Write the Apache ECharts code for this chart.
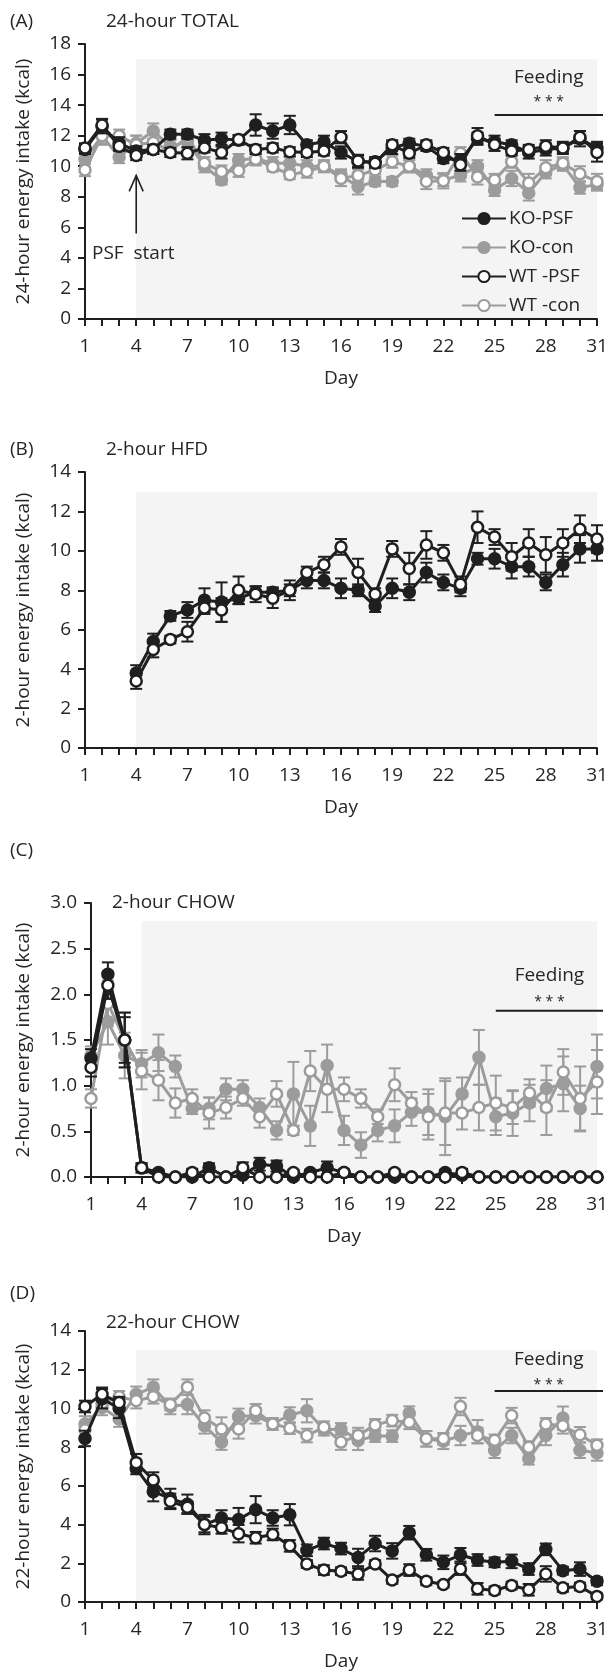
<!DOCTYPE html>
<html>
<head>
<meta charset="utf-8">
<script src="https://cdn.jsdelivr.net/npm/echarts@6/dist/echarts.min.js"></script>
<style>html,body{margin:0;padding:0;background:#fff}#c{width:611px;height:1672px}</style>
</head>
<body>
<div id="c"></div>
<script>
// ---------- data ----------
const days = ['1','2','3','4','5','6','7','8','9','10','11','12','13','14','15','16','17','18','19','20','21','22','23','24','25','26','27','28','29','30','31'];
const seriesNames = ['KO-PSF','KO-con','WT -PSF','WT -con'];

// (A) 24-hour TOTAL
const totalKOPSF    = [11.1,12.6,11.5,11.0,11.1,12.1,12.1,11.7,11.8,11.7,12.7,12.3,12.7,11.4,11.6,10.9,10.3,10.3,11.2,11.5,11.3,10.5,10.4,11.8,11.6,11.4,10.9,11.1,11.2,11.8,11.2];
const totalKOPSFErr = [0.3,0.45,0.4,0.3,0.3,0.3,0.3,0.4,0.4,0.3,0.7,0.5,0.6,0.3,0.4,0.4,0.4,0.3,0.4,0.3,0.3,0.3,0.4,0.4,0.4,0.3,0.4,0.4,0.4,0.5,0.4];
const totalKOcon    = [10.45,12.0,10.6,11.5,12.3,11.3,11.6,10.0,9.1,10.4,10.5,10.2,10.2,10.0,10.0,9.4,8.65,9.0,9.0,10.0,9.4,9.1,9.4,10.0,8.45,9.2,8.25,9.6,10.1,8.6,8.8];
const totalKOconErr = [0.5,0.6,0.4,0.5,0.5,0.4,0.4,0.4,0.3,0.4,0.4,0.4,0.4,0.4,0.4,0.4,0.5,0.3,0.3,0.4,0.4,0.4,0.4,0.4,0.4,0.5,0.5,0.4,0.4,0.4,0.4];
const totalWTPSF    = [11.2,12.7,11.3,10.7,11.1,10.9,10.85,11.2,10.9,11.75,11.1,11.2,10.95,10.9,11.0,11.9,10.35,10.2,11.4,10.85,11.4,10.9,10.1,12.0,11.4,11.0,11.1,11.3,11.2,11.9,10.9];
const totalWTPSFErr = [0.3,0.4,0.3,0.3,0.3,0.3,0.4,0.3,0.4,0.3,0.3,0.3,0.3,0.3,0.3,0.4,0.4,0.3,0.3,0.3,0.3,0.3,0.4,0.5,0.4,0.3,0.3,0.4,0.3,0.4,0.6];
const totalWTcon    = [9.75,12.0,12.0,11.4,11.55,11.0,11.9,10.2,9.65,9.7,10.45,9.95,9.45,9.65,10.0,9.2,9.4,9.75,10.3,10.0,9.0,9.05,10.85,9.3,9.1,10.3,8.9,9.9,10.2,9.5,9.0];
const totalWTconErr = [0.4,0.5,0.4,0.6,0.5,0.3,0.4,0.4,0.4,0.4,0.4,0.3,0.3,0.4,0.3,0.5,0.4,0.3,0.4,0.4,0.5,0.5,0.4,0.5,0.4,0.4,0.6,0.5,0.4,0.5,0.5];

// (B) 2-hour HFD
const hfdKOPSF    = [null,null,null,3.8,5.4,6.7,7.0,7.5,7.4,7.6,7.9,7.9,8.0,8.5,8.5,8.1,8.0,7.2,8.1,7.9,8.9,8.4,8.1,9.6,9.6,9.2,9.2,8.4,9.3,10.1,10.1];
const hfdKOPSFErr = [null,null,null,0.4,0.4,0.25,0.4,0.6,1.0,0.3,0.3,0.25,0.3,0.4,0.4,0.5,0.3,0.3,0.5,0.4,0.5,0.4,0.4,0.3,0.5,0.6,0.5,0.4,0.6,0.7,0.6];
const hfdWTPSF    = [null,null,null,3.4,5.0,5.5,5.9,7.1,7.0,8.0,7.8,7.6,8.0,8.9,9.3,10.2,8.9,7.8,10.1,9.1,10.3,9.9,8.3,11.2,10.7,9.7,10.4,9.8,10.4,11.1,10.6];
const hfdWTPSFErr = [null,null,null,0.4,0.4,0.2,0.5,0.3,0.6,0.7,0.4,0.5,0.5,0.3,0.4,0.4,0.7,0.3,0.4,0.8,0.7,0.4,0.4,0.8,0.4,0.7,0.7,0.9,0.7,0.7,0.7];

// (C) 2-hour CHOW
const chow2KOPSF    = [1.3,2.22,1.5,0.1,0.05,0.0,0.0,0.1,0.0,0.02,0.14,0.12,0.0,0.05,0.1,0.05,0.0,0.0,0.0,0.0,0.0,0.05,0.02,0.0,0.0,0.0,0.0,0.0,0.0,0.0,0.0];
const chow2KOPSFErr = [0.1,0.13,0.3,0.05,0.03,0.02,0.02,0.05,0.02,0.03,0.07,0.06,0.03,0.03,0.07,0.03,0.02,0.02,0.02,0.02,0.02,0.03,0.03,0.02,0.02,0.02,0.02,0.02,0.02,0.02,0.02];
const chow2KOcon    = [1.33,1.7,1.33,1.24,1.36,1.21,0.75,0.75,0.96,0.96,0.76,0.51,0.91,0.56,1.22,0.51,0.35,0.51,0.56,0.71,0.71,0.66,0.91,1.31,0.66,0.70,0.81,0.97,1.02,0.75,1.21];
const chow2KOconErr = [0.1,0.25,0.25,0.15,0.2,0.12,0.06,0.12,0.12,0.1,0.1,0.1,0.35,0.22,0.23,0.16,0.14,0.12,0.18,0.15,0.25,0.42,0.18,0.3,0.2,0.25,0.2,0.25,0.3,0.25,0.35];
const chow2WTPSF    = [1.2,2.1,1.5,0.1,0.0,0.0,0.05,0.0,0.0,0.1,0.0,0.0,0.05,0.0,0.0,0.05,0.0,0.0,0.05,0.0,0.0,0.0,0.05,0.0,0.0,0.0,0.0,0.0,0.0,0.0,0.0];
const chow2WTPSFErr = [0.1,0.15,0.25,0.05,0.02,0.02,0.04,0.02,0.02,0.06,0.02,0.02,0.03,0.02,0.02,0.03,0.02,0.02,0.03,0.02,0.02,0.02,0.04,0.02,0.02,0.02,0.02,0.02,0.02,0.02,0.02];
const chow2WTcon    = [0.86,1.9,1.5,1.16,1.06,0.81,0.86,0.70,0.76,0.86,0.66,0.91,0.51,1.16,0.96,0.96,0.86,0.66,1.01,0.81,0.66,0.70,0.70,0.76,0.81,0.76,0.92,0.76,1.15,0.86,1.04];
const chow2WTconErr = [0.1,0.25,0.3,0.2,0.22,0.16,0.1,0.17,0.12,0.08,0.12,0.14,0.05,0.22,0.25,0.13,0.1,0.08,0.18,0.12,0.25,0.35,0.18,0.25,0.3,0.18,0.15,0.3,0.25,0.35,0.35];

// (D) 22-hour CHOW
const chow22KOPSF    = [8.45,10.5,10.0,6.9,5.7,5.35,5.05,4.0,4.34,4.26,4.77,4.34,4.51,2.67,3.02,2.76,2.3,3.02,2.64,3.58,2.44,2.05,2.44,2.17,2.05,2.1,1.7,2.72,1.62,1.7,1.07];
const chow22KOPSFErr = [0.4,0.5,0.5,0.3,0.5,0.5,0.5,0.5,0.4,0.6,0.7,0.4,0.55,0.3,0.3,0.3,0.45,0.4,0.4,0.35,0.3,0.35,0.35,0.3,0.25,0.35,0.3,0.3,0.2,0.35,0.2];
const chow22KOcon    = [9.2,10.05,9.45,10.73,11.1,10.1,10.2,9.1,8.26,9.59,9.62,9.2,9.66,9.88,8.9,8.94,8.35,8.57,8.57,9.76,8.43,8.3,8.6,8.8,7.84,8.6,7.4,8.6,9.5,7.84,7.7];
const chow22KOconErr = [0.4,0.4,0.4,0.4,0.4,0.4,0.5,0.4,0.4,0.4,0.4,0.3,0.4,0.6,0.3,0.3,0.5,0.3,0.3,0.35,0.4,0.4,0.5,0.6,0.4,0.4,0.3,0.5,0.6,0.4,0.4];
const chow22WTPSF    = [10.1,10.73,10.3,7.2,6.3,5.2,4.89,4.0,3.83,3.53,3.32,3.49,2.9,1.96,1.65,1.59,1.45,1.96,1.14,1.65,1.07,0.9,1.7,0.68,0.6,0.85,0.63,1.45,0.73,0.8,0.29];
const chow22WTPSFErr = [0.3,0.35,0.3,0.45,0.4,0.4,0.3,0.4,0.3,0.45,0.3,0.3,0.3,0.2,0.25,0.2,0.3,0.2,0.2,0.3,0.2,0.15,0.3,0.3,0.2,0.2,0.3,0.4,0.2,0.2,0.15];
const chow22WTcon    = [8.9,10.27,10.6,10.4,10.6,10.2,11.1,9.5,8.94,8.94,9.88,9.2,8.98,8.6,9.03,8.26,8.6,9.15,9.37,9.28,8.43,8.43,10.1,8.6,8.35,9.63,8.0,9.2,9.1,8.64,8.1];
const chow22WTconErr = [0.3,0.4,0.3,0.4,0.35,0.3,0.4,0.4,0.6,0.5,0.35,0.3,0.3,0.35,0.3,0.4,0.4,0.3,0.3,0.35,0.4,0.3,0.45,0.4,0.3,0.4,0.3,0.3,0.4,0.4,0.3];

// ---------- styling ----------
const BLACK = '#1f1f1f', GRAY = '#9c9c9c', SHADE = '#f4f4f4', TXT = '#262626';
const FONT = 'Open Sans';
const FS = 19;

const grids = [
  {left: 85, right: 14, top: 44, height: 275},
  {left: 85, right: 14, top: 472, height: 276},
  {left: 91, right: 14, top: 903, height: 274},
  {left: 85, right: 14, top: 1331, height: 274}
];
const yMax = [18, 14, 3, 14];
const yInt = [2, 2, 0.5, 2];
const yNames = ['24-hour energy intake (kcal)','2-hour energy intake (kcal)','2-hour energy intake (kcal)','22-hour energy intake (kcal)'];
const shadeTop = [17, 13, 2.8, 13];

const xAxes = grids.map((g, i) => ({
  type: 'category', gridIndex: i, data: days, boundaryGap: false,
  axisLine: {lineStyle: {color: BLACK, width: 2}},
  axisTick: {interval: 0, length: 7, inside: false, lineStyle: {color: BLACK, width: 2}},
  axisLabel: {interval: 2, margin: 18, fontSize: FS, fontFamily: FONT, color: TXT},
  name: 'Day', nameLocation: 'middle', nameGap: 50,
  nameTextStyle: {fontSize: FS, fontFamily: FONT, color: TXT},
  splitLine: {show: false}
}));
const yAxes = grids.map((g, i) => ({
  type: 'value', gridIndex: i, min: 0, max: yMax[i], interval: yInt[i],
  axisLine: {show: true, lineStyle: {color: BLACK, width: 2}},
  axisTick: {show: true, length: 7, lineStyle: {color: BLACK, width: 2}},
  axisLabel: {margin: 14, fontSize: FS, fontFamily: FONT, color: TXT,
    formatter: i === 2 ? (v => v.toFixed(1)) : (v => String(v))},
  splitLine: {show: false},
  name: yNames[i], nameLocation: 'middle', nameRotate: 90, nameGap: i === 2 ? 58 : 52,
  nameTextStyle: {fontSize: FS, fontFamily: FONT, color: TXT}
}));

function shadeSeries(gi) {
  return {
    type: 'custom', xAxisIndex: gi, yAxisIndex: gi, silent: true, z: 0,
    data: [[3, 0, 30, shadeTop[gi]]],
    encode: {x: [0, 2], y: [1, 3]},
    renderItem: (p, api) => {
      const a = api.coord([api.value(0), api.value(1)]);
      const b = api.coord([api.value(2), api.value(3)]);
      return {type: 'rect', shape: {x: a[0], y: b[1], width: b[0] - a[0], height: a[1] - b[1]},
              style: {fill: SHADE}};
    }
  };
}

function errSeries(gi, vals, errs, color, z) {
  const data = [];
  vals.forEach((v, i) => { if (v != null && errs[i] != null) data.push([i, v, errs[i]]); });
  return {
    type: 'custom', xAxisIndex: gi, yAxisIndex: gi, silent: true, z: z,
    data: data, encode: {x: 0, y: 1},
    renderItem: (p, api) => {
      const x = api.value(0), y = api.value(1), e = api.value(2);
      const t = api.coord([x, y + e]), b = api.coord([x, y - e]);
      const w = 6, st = {stroke: color, lineWidth: 2};
      return {type: 'group', children: [
        {type: 'line', shape: {x1: t[0], y1: t[1], x2: b[0], y2: b[1]}, style: st},
        {type: 'line', shape: {x1: t[0] - w, y1: t[1], x2: t[0] + w, y2: t[1]}, style: st},
        {type: 'line', shape: {x1: b[0] - w, y1: b[1], x2: b[0] + w, y2: b[1]}, style: st}
      ]};
    }
  };
}

function lineSeries(gi, name, vals, color, filled, z) {
  return {
    type: 'line', name: name, xAxisIndex: gi, yAxisIndex: gi, data: vals, z: z,
    symbol: 'circle', symbolSize: 11, showAllSymbol: true, connectNulls: false,
    lineStyle: {color: color, width: 3},
    itemStyle: {color: filled ? color : '#ffffff', borderColor: color, borderWidth: 2.5},
    emphasis: {disabled: true}, animation: false
  };
}

function feedingSeries(gi, lineY, starY, textY) {
  return {
    type: 'custom', xAxisIndex: gi, yAxisIndex: gi, silent: true, z: 10,
    data: [[24, lineY]], encode: {x: 0, y: 1},
    renderItem: (p, api) => {
      const a = api.coord([24, lineY]), b = api.coord([30, lineY]);
      const s = api.coord([27, starY]), t = api.coord([27, textY]);
      const cx = (a[0] + b[0] + 6) / 2;
      return {type: 'group', children: [
        {type: 'line', shape: {x1: a[0], y1: a[1], x2: b[0] + 6, y2: b[1]}, style: {stroke: BLACK, lineWidth: 2}},
        {type: 'text', x: cx, y: s[1], style: {text: '* * *', fill: TXT, font: '14px "' + FONT + '"', textAlign: 'center', textVerticalAlign: 'middle'}},
        {type: 'text', x: cx, y: t[1], style: {text: 'Feeding', fill: TXT, font: FS + 'px "' + FONT + '"', textAlign: 'center', textVerticalAlign: 'middle'}}
      ]};
    }
  };
}

function arrowSeries(gi) {
  return {
    type: 'custom', xAxisIndex: gi, yAxisIndex: gi, silent: true, z: 10,
    data: [[3, 5.6]], encode: {x: 0, y: 1},
    renderItem: (p, api) => {
      const b = api.coord([3, 5.6]), t = api.coord([3, 9.4]), tx = api.coord([3, 4.3]);
      const st = {stroke: BLACK, lineWidth: 1.6, fill: null};
      return {type: 'group', children: [
        {type: 'line', shape: {x1: b[0], y1: b[1], x2: t[0], y2: t[1]}, style: st},
        {type: 'polyline', shape: {points: [[t[0] - 7, t[1] + 16], [t[0], t[1]], [t[0] + 7, t[1] + 16]]}, style: st},
        {type: 'text', x: tx[0] - 3, y: tx[1], style: {text: 'PSF  start', fill: TXT, font: FS + 'px "' + FONT + '"', textAlign: 'center', textVerticalAlign: 'middle'}}
      ]};
    }
  };
}

const series = [];
function panel(gi, koPSF, koPSFe, koCon, koConE, wtPSF, wtPSFe, wtCon, wtConE) {
  series.push(shadeSeries(gi));
  if (koCon) { series.push(errSeries(gi, koCon, koConE, GRAY, 2)); }
  if (wtCon) { series.push(errSeries(gi, wtCon, wtConE, GRAY, 2)); }
  series.push(errSeries(gi, koPSF, koPSFe, BLACK, 4));
  series.push(errSeries(gi, wtPSF, wtPSFe, BLACK, 4));
  if (koCon) series.push(lineSeries(gi, 'KO-con', koCon, GRAY, true, 3));
  if (wtCon) series.push(lineSeries(gi, 'WT -con', wtCon, GRAY, false, 3));
  series.push(lineSeries(gi, 'KO-PSF', koPSF, BLACK, true, 5));
  series.push(lineSeries(gi, 'WT -PSF', wtPSF, BLACK, false, 5));
}
panel(0, totalKOPSF, totalKOPSFErr, totalKOcon, totalKOconErr, totalWTPSF, totalWTPSFErr, totalWTcon, totalWTconErr);
panel(1, hfdKOPSF, hfdKOPSFErr, null, null, hfdWTPSF, hfdWTPSFErr, null, null);
panel(2, chow2KOPSF, chow2KOPSFErr, chow2KOcon, chow2KOconErr, chow2WTPSF, chow2WTPSFErr, chow2WTcon, chow2WTconErr);
panel(3, chow22KOPSF, chow22KOPSFErr, chow22KOcon, chow22KOconErr, chow22WTPSF, chow22WTPSFErr, chow22WTcon, chow22WTconErr);
series.push(feedingSeries(0, 13.35, 14.2, 15.8));
series.push(arrowSeries(0));
series.push(feedingSeries(2, 1.82, 1.92, 2.21));
series.push(feedingSeries(3, 10.9, 11.2, 12.5));

function label(text, left, top) {
  return {type: 'text', left: left, top: top, style: {text: text, fill: TXT, font: FS + 'px "' + FONT + '"'}};
}

const option = {
  animation: false,
  backgroundColor: '#ffffff',
  grid: grids,
  xAxis: xAxes,
  yAxis: yAxes,
  legend: {
    data: seriesNames, orient: 'vertical', left: 456, top: 204,
    itemWidth: 44, itemHeight: 14, itemGap: 10, selectedMode: false,
    textStyle: {fontSize: FS, fontFamily: FONT, color: TXT, padding: [0, 0, 0, -2]}
  },
  graphic: [
    label('(A)', 10, 12), label('24-hour TOTAL', 106, 12),
    label('(B)', 10, 440), label('2-hour HFD', 106, 440),
    label('(C)', 10, 841), label('2-hour CHOW', 112, 893),
    label('(D)', 10, 1284), label('22-hour CHOW', 106, 1313)
  ],
  series: series
};
const chart = echarts.init(document.getElementById('c'), null, {renderer: 'canvas'});
chart.setOption(option);
</script>
</body>
</html>
